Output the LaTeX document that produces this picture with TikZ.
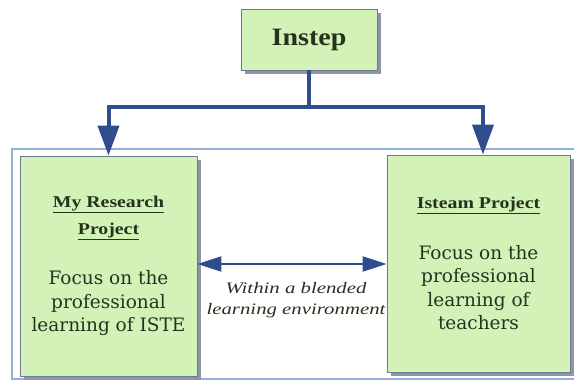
\documentclass[tikz,border=0pt]{standalone}
\usepackage{fontspec}
\setmainfont{Liberation Serif}
\newfontfamily\bodyf{DejaVu Serif}
\newfontfamily\titf[FakeStretch=1.2]{Liberation Serif}
\newfontfamily\topf[FakeStretch=1.12]{Liberation Serif}
\newfontfamily\itf[FakeStretch=1.3]{Liberation Serif}
\usetikzlibrary{arrows.meta,shadows}
\definecolor{navy}{HTML}{2F4C8C}
\definecolor{boxfill}{HTML}{D2F2B8}
\definecolor{boxline}{HTML}{6B7B8C}
\definecolor{shade}{HTML}{8E95A8}
\definecolor{frameblue}{HTML}{93AEDB}
\definecolor{txt}{HTML}{26321E}
\tikzset{
  x=1pt, y=-1pt,
  gbox/.style={draw=boxline, line width=0.8pt, fill=boxfill, inner sep=0pt,
    drop shadow={shadow xshift=4pt, shadow yshift=-4pt, fill=shade, opacity=1},
    text=txt, align=center},
  conn/.style={draw=navy, line width=4pt},
  arr/.style={draw=navy, line width=4pt, -{Triangle[length=30pt,width=21pt]}},
  dbl/.style={draw=navy, line width=2.5pt, {Triangle[length=24pt,width=15pt]}-{Triangle[length=24pt,width=15pt]}},
}
\newcommand{\ttl}[1]{{\titf\bfseries\fontsize{16.5}{24}\selectfont\underline{#1}}}
\begin{document}
\begin{tikzpicture}
\useasboundingbox (0,0) rectangle (574,382);
% outer frame (right side runs off the picture)
\draw[frameblue, line width=1.5pt] (580,149) -- (12,149) -- (12,379) -- (580,379);
% label (drawn before right box so the box covers its end)
\node[text=txt, align=center, font=\itf\itshape\fontsize{16}{21}\selectfont] (lbl) at (296,300)
  {Within a blended\\learning environment};
\node[gbox, minimum width=136pt, minimum height=61pt, font=\topf\bfseries\fontsize{25}{30}\selectfont] (instep) at (309,39.5) {Instep};
\node[gbox, minimum width=177pt, minimum height=220pt, font=\bodyf\fontsize{18.5}{23.5}\selectfont] (left) at (108.5,266)
  {\ttl{My Research}\\[3pt]
   \ttl{Project}\\[27pt]
   Focus on the\\professional\\learning of ISTE};
\node[gbox, minimum width=183pt, minimum height=217pt, font=\bodyf\fontsize{18.5}{23.5}\selectfont] (right) at (478.5,263.5)
  {\ttl{Isteam Project}\\[27pt]
   Focus on the\\professional\\learning of\\teachers};
\coordinate (j) at (309,107);
\draw[conn] (instep.south) -- (j);
\draw[arr] (j) -| (left.north);
\draw[arr] (j) -| ([xshift=4.5pt]right.north);
\draw[dbl] (left.east |- 0,264) -- (right.west |- 0,264);
\end{tikzpicture}
\end{document}
